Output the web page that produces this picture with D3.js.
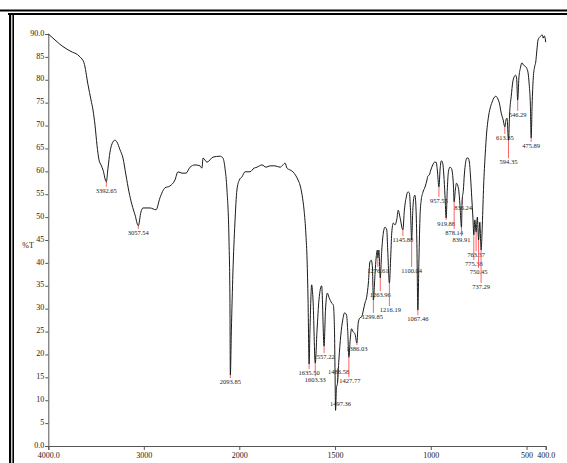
<!DOCTYPE html>
<html>
<head>
<meta charset="utf-8">
<script src="https://cdn.jsdelivr.net/npm/d3@7"></script>
<style>
body { margin: 0; background: #fff; }
svg { display: block; }
</style>
</head>
<body>
<svg></svg>
<script>
// IR spectrum
const wavenumber = [4000, 3930, 3857, 3773, 3668, 3626, 3584, 3553, 3532, 3511, 3490, 3469, 3448, 3427, 3392.65,
    3375, 3354, 3333, 3302, 3281, 3249, 3218, 3187, 3155, 3124, 3092, 3057.54, 3030, 3009, 2935, 2872, 2831, 2778,
    2726, 2674, 2642, 2600, 2558, 2516, 2464, 2412, 2391, 2380, 2338, 2276, 2203, 2171, 2150, 2129, 2108, 2098, 2093.85,
    2083, 2067, 2046, 2025, 2000, 1986, 1970, 1944, 1923, 1908, 1881, 1861, 1840, 1814, 1787, 1772, 1761, 1751, 1735,
    1720, 1704, 1693, 1683, 1672, 1662, 1652, 1646, 1641, 1635.50, 1631, 1622, 1615, 1603.33, 1594, 1584, 1570, 1557.22,
    1550, 1540, 1532, 1517, 1509, 1503, 1500, 1497.36, 1493, 1486.58, 1480, 1470, 1460, 1450, 1440, 1434, 1427.77,
    1421, 1414, 1405, 1396, 1386.03, 1379, 1370, 1361, 1352, 1344, 1335, 1326, 1318, 1311, 1305, 1299.85, 1291, 1285,
    1279, 1276.61, 1271, 1263.96, 1256, 1248, 1239, 1230, 1225, 1216.19, 1210, 1204, 1196, 1187, 1178, 1170, 1161,
    1145.80, 1138, 1128, 1120, 1112, 1106, 1100.04, 1094, 1088, 1083, 1078, 1073, 1067.46, 1062, 1056, 1050, 1042,
    1030, 1020, 1015, 1008, 1000, 990, 980, 972, 966, 957.55, 951, 945, 938, 932, 926, 919.88, 914, 908, 900, 893, 887,
    882, 878.14, 872, 866, 860, 853, 846, 839.91, 836.24, 830, 825, 818, 812, 805, 798, 792, 786, 780, 775.38, 770,
    763.37, 757, 750.45, 744, 737.29, 731, 724, 716, 708, 700, 690, 680, 668, 660, 652, 642, 632, 622, 613.35, 608, 602,
    594.35, 588, 580, 572, 565, 558, 552, 546.29, 540, 532, 524, 516, 508, 500, 492, 486, 480, 475.89, 471, 465, 458,
    452, 446, 440, 432, 425, 418, 413, 408, 403, 400];
const transmittance = [90.0, 88.7, 87.4, 86.3, 85.0, 83.7, 78.9, 75.6, 73.4, 70.1, 65.7, 62.5, 61.4, 60.3, 57.7,
    60.7, 64.2, 66.0, 66.8, 66.4, 64.7, 62.9, 59.2, 55.5, 52.7, 50.5, 48.1, 51.1, 52.0, 52.0, 51.6, 54.2, 56.4,
    56.8, 58.1, 59.9, 59.6, 59.6, 60.9, 61.4, 61.2, 60.7, 62.9, 62.0, 63.1, 63.3, 62.9, 60.7, 55.9, 45.0, 31.9, 15.5,
    25.3, 37.8, 48.7, 55.9, 58.1, 58.8, 59.9, 59.9, 60.7, 60.9, 61.4, 60.9, 61.2, 61.2, 60.9, 61.4, 61.8, 60.7, 60.3,
    59.9, 59.0, 58.1, 57.0, 54.8, 51.6, 46.1, 40.6, 31.9, 17.9, 25.3, 35.2, 31.9, 18.1, 25.3, 31.9, 35.0, 21.8,
    29.7, 33.4, 32.5, 31.2, 30.8, 25.3, 16.0, 7.8, 12.5, 14.0, 18.8, 24.2, 27.5, 29.1, 28.6, 25.3, 19.4,
    23.2, 25.6, 24.9, 24.5, 22.5, 26.9, 28.0, 28.2, 29.7, 31.2, 32.5, 35.6, 40.2, 40.6, 39.1, 31.9, 37.8, 41.3,
    42.8, 41.1, 42.8, 36.7, 42.8, 46.5, 47.8, 47.2, 42.8, 35.6, 40.6, 46.5, 48.7, 48.3, 49.4, 51.5, 50.0,
    47.2, 51.5, 54.4, 55.5, 55.3, 51.5, 45.0, 51.5, 54.4, 54.8, 52.6, 45.0, 29.7, 40.6, 50.5, 53.7, 55.3,
    56.6, 58.1, 59.0, 59.2, 60.3, 61.4, 62.0, 62.0, 60.3, 56.6, 60.7, 62.3, 61.8, 59.2, 54.8, 49.8, 55.9, 59.9, 60.9, 60.7, 59.6,
    57.0, 53.3, 55.9, 57.4, 57.0, 55.5, 51.5, 47.8, 53.7, 55.9, 59.2, 62.0, 62.9, 62.9, 61.8, 58.5, 54.2, 49.8, 46.1, 49.4,
    46.7, 50.0, 45.0, 48.9, 42.8, 48.3, 57.0, 63.6, 68.6, 71.6, 73.8, 75.1, 76.2, 76.4, 76.0, 74.9, 72.7, 71.2, 69.7, 71.2, 71.6,
    66.8, 73.0, 76.4, 79.5, 80.6, 81.0, 80.4, 75.6, 80.4, 82.6, 83.7, 83.2, 83.0, 82.6, 81.5, 78.9, 74.5, 67.3, 74.5, 80.4, 82.8,
    83.9, 86.5, 88.7, 89.3, 89.6, 89.8, 89.1, 89.6, 89.1, 88.2];

const peakLabels = ["3392.65", "3057.54", "2093.85", "1635.50", "1603.33", "1557.22", "1497.36", "1486.58",
    "1427.77", "1386.03", "1299.85", "1276.61", "1263.96", "1216.19", "1145.80", "1100.04", "1067.46", "957.55",
    "919.88", "878.14", "839.91", "836.24", "775.38", "763.37", "750.45", "737.29", "613.35", "594.35", "546.29",
    "475.89"];

const xTicks = [4000, 3000, 2000, 1500, 1000, 500, 400];
const yTicks = [0, 5, 10, 15, 20, 25, 30, 35, 40, 45, 50, 55, 60, 65, 70, 75, 80, 85, 90];

// where each peak label sits: px below the peak and px sideways
const labelDrop = {"3392.65": 11, "3057.54": 9, "2093.85": 9, "1635.50": 11, "1603.33": 19, "1557.22": 13,
    "1497.36": -4, "1486.58": -8, "1427.77": 26, "1386.03": 8, "1299.85": 19, "1276.61": 15, "1263.96": 19,
    "1216.19": 29, "1145.80": 12, "1100.04": 33, "1067.46": 11, "957.55": 16, "919.88": 8, "878.14": 33,
    "839.91": 15, "836.24": 10, "775.38": 31, "763.37": 25, "750.45": 34, "737.29": 39, "613.35": 13,
    "594.35": 24, "546.29": 17, "475.89": 10};
const labelShift = {"1497.36": 5, "1486.58": 1, "1427.77": 1, "1299.85": -1, "1216.19": 1, "836.24": 1};

const width = 567, height = 463;
const svg = d3.select("svg").attr("width", width).attr("height", height);

const x = d3.scaleLinear().domain([4000, 2000, 400]).range([48.3, 239.3, 545.7]);
const y = d3.scaleLinear().domain([0, 90]).range([446, 34]);

// page frame (double rule top and left)
svg.append("rect").attr("x", 0).attr("y", 9.5).attr("width", width).attr("height", 2).attr("fill", "#000");
svg.append("rect").attr("x", 8).attr("y", 13).attr("width", width - 8).attr("height", 2).attr("fill", "#000");
svg.append("rect").attr("x", 9).attr("y", 13).attr("width", 2.2).attr("height", height - 13).attr("fill", "#000");
svg.append("rect").attr("x", 12.4).attr("y", 13).attr("width", 1.6).attr("height", height - 13).attr("fill", "#000");

const font = "'Liberation Serif', 'Times New Roman', serif";

const xAxis = d3.axisBottom(x).tickValues(xTicks).tickSize(4).tickPadding(2)
    .tickFormat(d => (d === 4000 || d === 400) ? d.toFixed(1) : d);
const yAxis = d3.axisLeft(y).tickValues(yTicks).tickSize(3).tickPadding(1)
    .tickFormat(d => (d === 0 || d === 90) ? d.toFixed(1) : d);

const gx = svg.append("g").attr("transform", "translate(0,446)").call(xAxis);
const gy = svg.append("g").attr("transform", "translate(48.3,0)").call(yAxis);
[gx, gy].forEach(g => {
    g.select(".domain").attr("stroke", "#555");
    g.selectAll(".tick line").attr("stroke", "#555");
    g.selectAll(".tick text").attr("fill", "#222").attr("font-family", font).attr("font-size", 8);
});
gy.selectAll(".tick text").attr("dy", "0.15em");

svg.append("text")
    .attr("x", 28).attr("y", 248)
    .attr("text-anchor", "middle")
    .attr("font-family", font).attr("font-size", 8).attr("fill", "#222")
    .text("%T");

const spectrum = wavenumber.map((w, i) => ({w: w, t: transmittance[i]}));

const line = d3.line()
    .x(d => x(d.w))
    .y(d => y(d.t))
    .curve(d3.curveMonotoneX);

// peak markers
const peaks = peakLabels.map(label => {
    const p = spectrum.find(d => d.w === +label);
    return {label: label, w: p.w, t: p.t};
});

const pk = svg.append("g").selectAll("g").data(peaks).enter().append("g");

pk.append("line")
    .attr("x1", d => x(d.w)).attr("x2", d => x(d.w))
    .attr("y1", d => y(d.t))
    .attr("y2", d => y(d.t) + labelDrop[d.label] - 6)
    .attr("stroke", "#ff5050")
    .attr("stroke-width", 0.9);

svg.append("path")
    .datum(spectrum)
    .attr("d", line)
    .attr("fill", "none")
    .attr("stroke", "#1a1a1a")
    .attr("stroke-width", 1);

pk.append("text")
    .attr("x", d => x(d.w) + (labelShift[d.label] || 0))
    .attr("y", d => y(d.t) + labelDrop[d.label])
    .attr("text-anchor", "middle")
    .attr("font-family", font).attr("font-size", 6.5).attr("fill", "#222")
    .text(d => d.label);
</script>
</body>
</html>
